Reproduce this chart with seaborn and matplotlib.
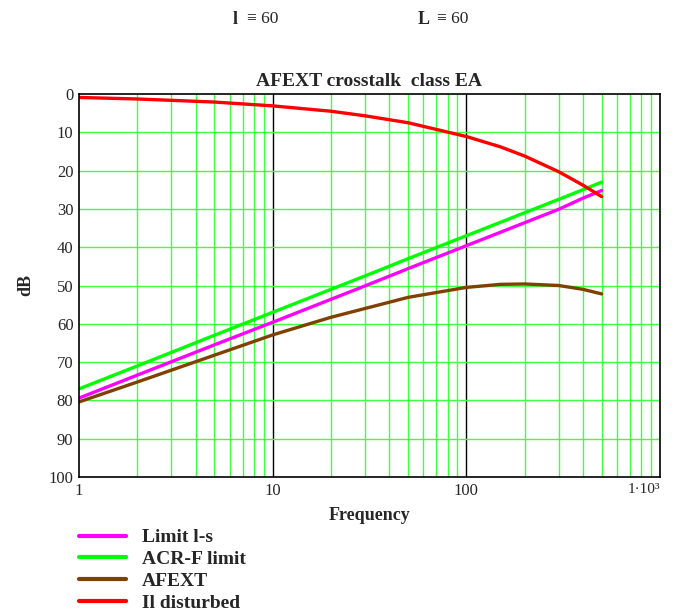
import numpy as np
import pandas as pd
import matplotlib
matplotlib.use("Agg")
import matplotlib.pyplot as plt
import seaborn as sns

# values (frequency in MHz, dB)
freq = [1, 2, 5, 10, 20, 30, 50, 100, 150, 200, 300, 400, 500]
limit_ls = [79.4, 73.4, 65.5, 59.6, 53.6, 50.1, 45.6, 39.6, 36.1, 33.6, 30.1, 27.2, 25.2]
acrf_limit = [77.0, 71.0, 63.0, 57.0, 51.0, 47.5, 43.0, 37.0, 33.5, 31.0, 27.5, 25.0, 23.0]
afext = [80.4, 75.2, 68.2, 62.9, 58.3, 56.0, 53.1, 50.5, 49.7, 49.6, 50.0, 51.0, 52.2]
il_disturbed = [0.9, 1.3, 2.1, 3.1, 4.5, 5.7, 7.5, 11.1, 13.8, 16.2, 20.3, 23.8, 26.8]

series = ["Limit l-s", "ACR-F limit", "AFEXT", "Il disturbed"]
colors = ["#ff00ff", "#00ff00", "#804000", "#ff0000"]
yticks = list(range(0, 101, 10))
xtick_vals = [1, 10, 100, 1000]
xtick_labels = ["1", "10", "100", "1·10³"]

df = pd.concat([
    pd.DataFrame({"f": freq, "dB": vals, "trace": name})
    for name, vals in zip(series, [limit_ls, acrf_limit, afext, il_disturbed])
], ignore_index=True)

sns.set_style("white")
plt.rcParams["font.family"] = ["Liberation Serif", "DejaVu Serif"]

fig = plt.figure(figsize=(6.75, 6.14), dpi=100)
ax = fig.add_axes([79 / 675, 1 - 477 / 614, 581 / 675, 383 / 614])

# grid: green minor lines, black decade lines
for d in [1, 10, 100]:
    for k in range(2, 10):
        ax.axvline(d * k, color="#40ff40", lw=1, zorder=0)
for x in [10, 100]:
    ax.axvline(x, color="black", lw=1, zorder=0)
for y in yticks[1:-1]:
    ax.axhline(y, color="#40ff40", lw=1, zorder=0)

sns.lineplot(data=df, x="f", y="dB", hue="trace", hue_order=series,
             palette=colors, lw=2.4, ax=ax, sort=False)

ax.set_xscale("log")
ax.set_xlim(1, 1000)
ax.set_ylim(100, 0)
ax.set_yticks(yticks)
ax.set_xticks(xtick_vals)
ax.set_xticklabels(xtick_labels)
ax.xaxis.set_minor_locator(matplotlib.ticker.NullLocator())
ax.tick_params(length=0, labelsize=12)
ax.tick_params(axis="y", pad=4)
ax.tick_params(axis="x", pad=4)
last = ax.get_xticklabels()[-1]
last.set_fontsize(11)
last.set_horizontalalignment("right")
last.set_x(1000)
for s in ax.spines.values():
    s.set_color("black")
    s.set_linewidth(1.2)

ax.set_title("AFEXT crosstalk  class EA", fontweight="bold", fontsize=14, pad=6)
ax.set_xlabel("Frequency", fontweight="bold", fontsize=13, labelpad=6)
ax.set_ylabel("dB", fontweight="bold", fontsize=13, labelpad=10)

leg = ax.legend(loc="upper left", bbox_to_anchor=(0.0, -0.135), frameon=False,
                borderpad=0, borderaxespad=0, handlelength=2.4, handletextpad=0.85,
                labelspacing=0.22, prop={"weight": "bold", "size": 14})
for line in leg.get_lines():
    line.set_linewidth(3)

# defined constants above the plot
fig.text(233 / 675, 1 - 19 / 614, "l", fontweight="bold", fontsize=13, va="center")
fig.text(247 / 675, 1 - 19 / 614, "≡ 60", fontsize=12.5, va="center")
fig.text(418 / 675, 1 - 19 / 614, "L", fontweight="bold", fontsize=13, va="center")
fig.text(437 / 675, 1 - 19 / 614, "≡ 60", fontsize=12.5, va="center")

fig.savefig("out.png", dpi=100, facecolor="white")
